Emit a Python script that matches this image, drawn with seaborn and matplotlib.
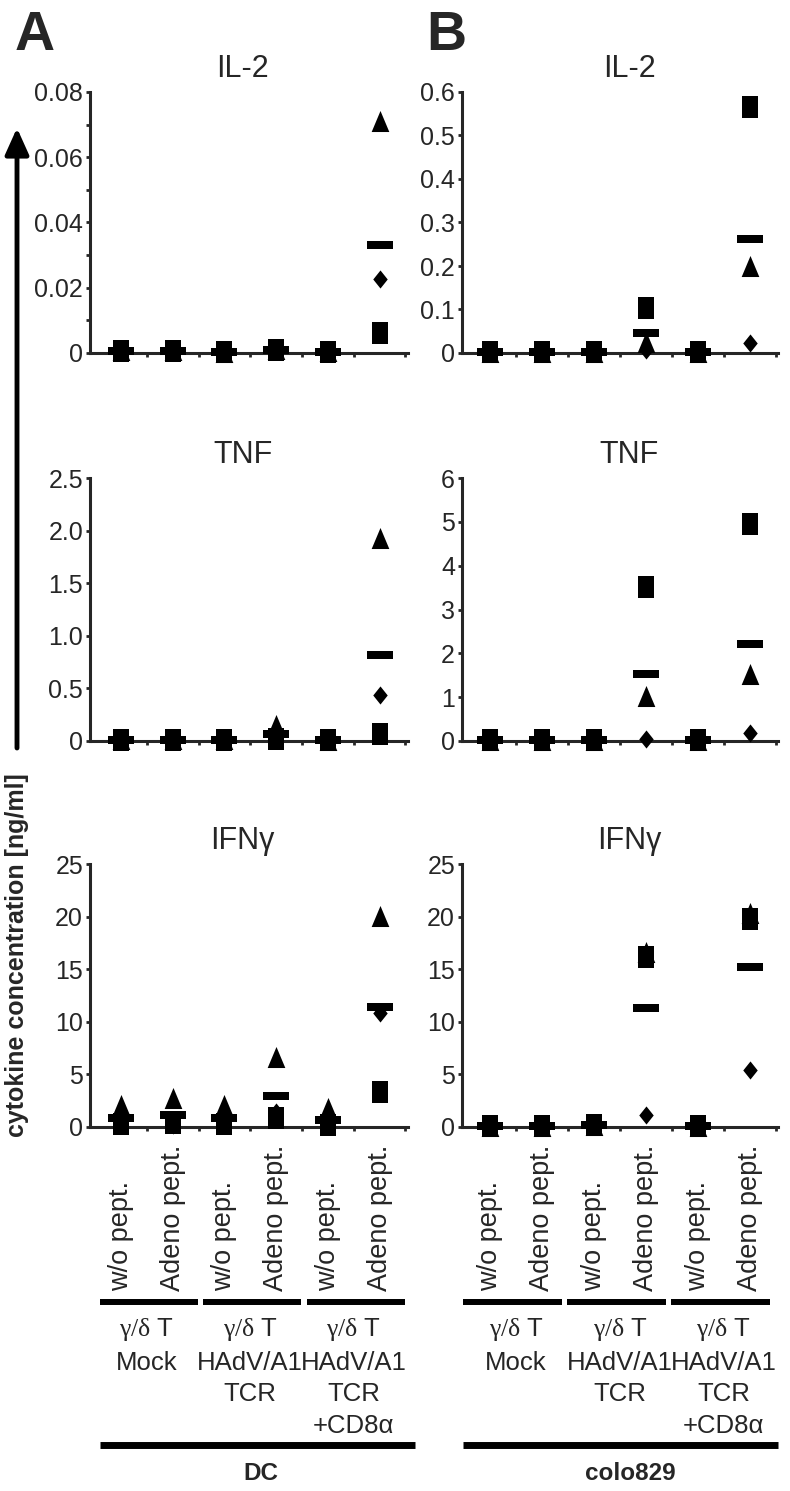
import numpy as np
import pandas as pd
import seaborn as sns
import matplotlib.pyplot as plt
from matplotlib import transforms
from matplotlib.lines import Line2D

# ---- data (ng/ml), one value per donor for the 6 conditions ----
conditions = ["w/o pept.", "Adeno pept."] * 3
groups = ["$\\mathrm{\\gamma/\\delta}$ T\nMock",
          "$\\mathrm{\\gamma/\\delta}$ T\nHAdV/A1\nTCR",
          "$\\mathrm{\\gamma/\\delta}$ T\nHAdV/A1\nTCR\n+CD8α"]
targets = ["DC", "colo829"]
cytokines = ["IL-2", "TNF", "IFNγ"]

a_il2_sq = [0.0005, 0.0005, 0.0003, 0.0008, 0.0003, 0.006]
a_il2_di = [0.0005, 0.0006, 0.0003, 0.0010, 0.0004, 0.0227]
a_il2_tri = [0.0008, 0.0009, 0.0004, 0.0012, 0.0005, 0.071]

b_il2_sq = [0.002, 0.002, 0.002, 0.104, 0.002, 0.565]
b_il2_di = [0.002, 0.002, 0.002, 0.008, 0.002, 0.023]
b_il2_tri = [0.003, 0.003, 0.003, 0.025, 0.003, 0.200]

a_tnf_sq = [0.01, 0.01, 0.01, 0.02, 0.01, 0.07]
a_tnf_di = [0.01, 0.01, 0.01, 0.02, 0.01, 0.44]
a_tnf_tri = [0.02, 0.02, 0.02, 0.15, 0.01, 1.93]

b_tnf_sq = [0.02, 0.02, 0.02, 3.52, 0.02, 4.95]
b_tnf_di = [0.02, 0.02, 0.02, 0.05, 0.02, 0.18]
b_tnf_tri = [0.03, 0.03, 0.03, 1.03, 0.03, 1.52]

a_ifn_sq = [0.3, 0.4, 0.3, 0.85, 0.2, 3.3]
a_ifn_di = [0.2, 0.2, 0.15, 1.4, 0.1, 10.8]
a_ifn_tri = [2.1, 2.8, 2.1, 6.7, 1.8, 20.1]

b_ifn_sq = [0.1, 0.1, 0.15, 16.2, 0.1, 19.8]
b_ifn_di = [0.1, 0.1, 0.15, 1.1, 0.1, 5.4]
b_ifn_tri = [0.1, 0.1, 0.15, 16.6, 0.1, 20.3]

panels = {
    (0, 0): (a_il2_sq, a_il2_di, a_il2_tri),
    (0, 1): (b_il2_sq, b_il2_di, b_il2_tri),
    (1, 0): (a_tnf_sq, a_tnf_di, a_tnf_tri),
    (1, 1): (b_tnf_sq, b_tnf_di, b_tnf_tri),
    (2, 0): (a_ifn_sq, a_ifn_di, a_ifn_tri),
    (2, 1): (b_ifn_sq, b_ifn_di, b_ifn_tri),
}

yticks = {
    (0, 0): ([0, 0.02, 0.04, 0.06, 0.08], ["0", "0.02", "0.04", "0.06", "0.08"]),
    (0, 1): ([0, 0.1, 0.2, 0.3, 0.4, 0.5, 0.6], ["0", "0.1", "0.2", "0.3", "0.4", "0.5", "0.6"]),
    (1, 0): ([0, 0.5, 1, 1.5, 2, 2.5], ["0", "0.5", "1.0", "1.5", "2.0", "2.5"]),
    (1, 1): ([0, 1, 2, 3, 4, 5, 6], ["0", "1", "2", "3", "4", "5", "6"]),
    (2, 0): ([0, 5, 10, 15, 20, 25], ["0", "5", "10", "15", "20", "25"]),
    (2, 1): ([0, 5, 10, 15, 20, 25], ["0", "5", "10", "15", "20", "25"]),
}

# ---- style ----
sns.set_style("ticks")
plt.rcParams['font.family'] = ['Liberation Sans', 'DejaVu Sans']
plt.rcParams['mathtext.fontset'] = 'custom'
plt.rcParams['mathtext.rm'] = 'Liberation Serif'
plt.rcParams['mathtext.it'] = 'Liberation Serif:italic'

W, H = 790, 1491
fig = plt.figure(figsize=(W / 100, H / 100), dpi=100)


def fy(px):
    return 1 - px / H


rows = [(92, 353), (478, 741), (864, 1127)]
cols = [(90, 408), (462, 778)]
xlims = [(-0.6, 5.55), (-0.54, 5.54)]

# marker shapes (squares are drawn taller than wide in the original)
m_sq = [(-0.36, -0.5), (0.36, -0.5), (0.36, 0.5), (-0.36, 0.5)]
m_di = [(0, -0.5), (0.4, 0), (0, 0.5), (-0.4, 0)]
m_tri = [(-0.42, -0.5), (0.42, -0.5), (0, 0.5)]
m_bar = [(-0.5, -0.14), (0.5, -0.14), (0.5, 0.14), (-0.5, 0.14)]
donor_style = [("tri", m_tri, 230), ("di", m_di, 170), ("sq", m_sq, 230)]

axes = {}
for (r, c), (sq, di, tri) in panels.items():
    top, bot = rows[r]
    left, right = cols[c]
    ax = fig.add_axes([left / W, 1 - bot / H, (right - left) / W, (bot - top) / H])
    axes[(r, c)] = ax

    df = pd.DataFrame({
        "pos": list(range(6)) * 3,
        "value": sq + di + tri,
        "donor": ["sq"] * 6 + ["di"] * 6 + ["tri"] * 6,
    })
    means = df.groupby("pos", as_index=False)["value"].mean()

    for donor, marker, size in donor_style:
        sns.scatterplot(data=df[df["donor"] == donor], x="pos", y="value",
                        marker=marker, s=size, color="black", linewidth=0,
                        clip_on=False, zorder=3, legend=False, ax=ax)
    sns.scatterplot(data=means, x="pos", y="value", marker=m_bar, s=330,
                    color="black", linewidth=0, clip_on=False, zorder=4,
                    legend=False, ax=ax)

    ticks, labels = yticks[(r, c)]
    ax.set_ylim(0, ticks[-1])
    ax.set_yticks(ticks, labels)
    if (r, c) == (0, 0):
        ax.set_yticks([0.01, 0.03, 0.05, 0.07], minor=True)
    ax.set_xlim(*xlims[c])
    ax.set_xticks([])
    ax.set_xticks([0.5, 1.5, 2.5, 3.5, 4.5, 5.5], minor=True)
    ax.set_xlabel("")
    ax.set_ylabel("")
    sns.despine(ax=ax)
    for s in ["left", "bottom"]:
        ax.spines[s].set_linewidth(2.2)
    ax.tick_params(axis="y", which="major", direction="out", length=3, width=2,
                   labelsize=18, pad=2)
    ax.tick_params(axis="both", which="minor", direction="out", length=3, width=2)
    ax.set_title(cytokines[r], fontsize=22, pad=11, x=0.48 if c == 0 else 0.53)

# ---- category labels under bottom row ----
line_off = [-0.41, -0.52]
big_span = [(-0.41, 5.69), (-0.52, 5.54)]
for c in range(2):
    ax = axes[(2, c)]
    trans = transforms.blended_transform_factory(ax.transData, fig.transFigure)
    for i, cond in enumerate(conditions):
        ax.text(i, fy(1291), cond, rotation=90, ha="center", va="bottom",
                fontsize=19.5, transform=trans)
    for g, gl in enumerate(groups):
        x0 = 2 * g + line_off[c]
        fig.add_artist(Line2D([x0, x0 + 1.9], [fy(1302), fy(1302)], transform=trans,
                              color="black", lw=4.3, solid_capstyle="butt"))
        ax.text(2 * g + 0.5, fy(1316), gl, ha="center", va="top", fontsize=18.5,
                linespacing=1.4, multialignment="center", transform=trans)
    fig.add_artist(Line2D(list(big_span[c]), [fy(1445), fy(1445)], transform=trans,
                          color="black", lw=5, solid_capstyle="butt"))
    ax.text(2.7, fy(1473), targets[c], ha="center", va="center", fontsize=17.5,
            fontweight="bold", transform=trans)

# ---- y axis arrow and label ----
axes[(0, 0)].annotate("", xy=(17, H - 128), xytext=(17, H - 748),
                      xycoords="figure pixels", textcoords="figure pixels",
                      annotation_clip=False,
                      arrowprops=dict(arrowstyle="-|>,head_length=0.8,head_width=0.36",
                                      mutation_scale=20, lw=3.5, color="black",
                                      shrinkA=0, shrinkB=0))
fig.text(17 / W, fy(955), "cytokine concentration [ng/ml]", rotation=90,
         ha="center", va="center", fontsize=18, fontweight="bold")

fig.text(15 / W, fy(50), "A", fontsize=40, fontweight="bold", va="baseline")
fig.text(426 / W, fy(50), "B", fontsize=40, fontweight="bold", va="baseline")

fig.savefig("out.png", dpi=100, facecolor="white")
